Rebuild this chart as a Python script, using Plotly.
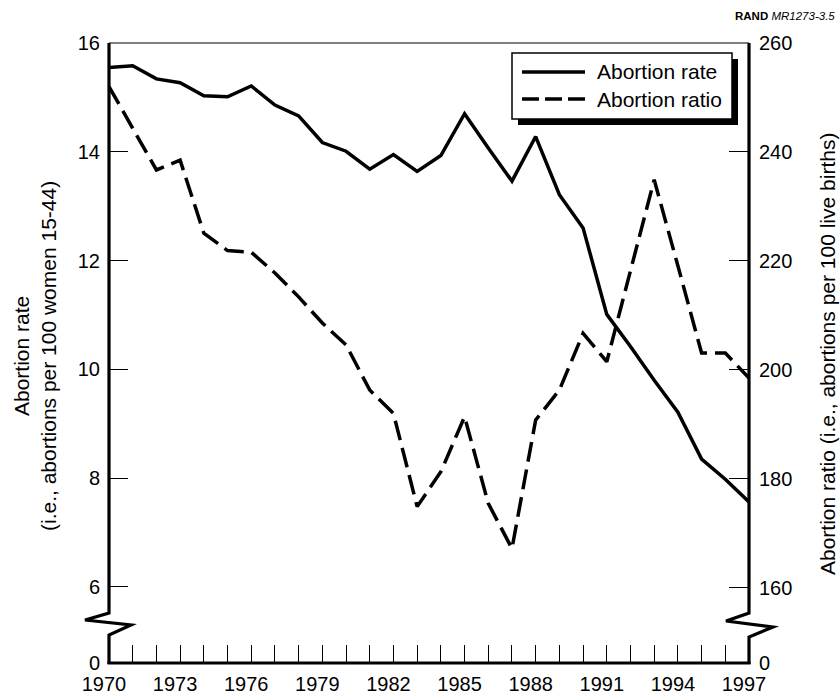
import plotly.graph_objects as go

years = list(range(1970, 1998))
abortion_rate = [15.55, 15.58, 15.34, 15.27, 15.03, 15.01, 15.21, 14.86, 14.66, 14.17,
                 14.01, 13.68, 13.95, 13.64, 13.93, 14.70, 14.07, 13.46, 14.28, 13.21,
                 12.60, 11.01, 10.42, 9.80, 9.21, 8.35, 7.98, 7.56]
abortion_ratio = [252.0, 244.4, 236.7, 238.5, 225.1, 221.9, 221.6, 217.8, 213.4, 208.6,
                  204.6, 196.3, 192.0, 174.9, 181.3, 191.4, 175.5, 167.2, 190.8, 196.3,
                  206.7, 201.5, 218.2, 234.9, 219.1, 203.1, 203.1, 198.5]

left_ticks = [6, 8, 10, 12, 14, 16]
right_ticks = [160, 180, 200, 220, 240, 260]
x_label_years = list(range(1970, 1998, 3))

# axis break: bottom of each y axis stands for "0"
LEFT_BASE = 4.6
RIGHT_BASE = 146.2

W, H = 840, 698
L, R, T, B = 109, 91, 43, 35
PW, PH = W - L - R, H - T - B


def px(x):
    return (x - L) / PW


def py(y):
    return (H - B - y) / PH


FONT = "Liberation Sans, Arial, Helvetica, sans-serif"

fig = go.Figure()
fig.add_trace(go.Scatter(x=years, y=abortion_rate, mode="lines", name="Abortion rate",
                         line=dict(color="black", width=3.5), showlegend=False))
fig.add_trace(go.Scatter(x=years, y=abortion_ratio, mode="lines", name="Abortion ratio",
                         yaxis="y2", line=dict(color="black", width=3.5, dash="20px,8px"),
                         showlegend=False))

shapes = []
lw = 3.2
# left axis with break
path_left = (f"M {px(109)} {py(43)} L {px(109)} {py(613)} L {px(85)} {py(620)} "
             f"L {px(131)} {py(625)} L {px(109)} {py(635)} L {px(109)} {py(664)}")
shapes.append(dict(type="path", xref="paper", yref="paper", path=path_left,
                   line=dict(color="black", width=lw)))
path_right = (f"M {px(749)} {py(43)} L {px(749)} {py(613)} L {px(726)} {py(621)} "
              f"L {px(773)} {py(627)} L {px(749)} {py(637)} L {px(749)} {py(664)}")
shapes.append(dict(type="path", xref="paper", yref="paper", path=path_right,
                   line=dict(color="black", width=lw)))
# bottom axis
shapes.append(dict(type="line", xref="paper", yref="paper", x0=px(107.5), x1=px(750.5),
                   y0=py(663), y1=py(663), line=dict(color="black", width=lw)))
# top border
shapes.append(dict(type="line", xref="paper", yref="paper", x0=px(109), x1=px(749),
                   y0=py(43), y1=py(43), line=dict(color="black", width=1.2)))

# legend box with shadow
shapes.append(dict(type="rect", xref="paper", yref="paper", x0=px(518), x1=px(738),
                   y0=py(59), y1=py(125), fillcolor="black", line=dict(width=0)))
shapes.append(dict(type="rect", xref="paper", yref="paper", x0=px(512), x1=px(732),
                   y0=py(53), y1=py(119), fillcolor="white",
                   line=dict(color="black", width=1.5)))
shapes.append(dict(type="line", xref="paper", yref="paper", x0=px(522), x1=px(585),
                   y0=py(72), y1=py(72), line=dict(color="black", width=3.5)))
shapes.append(dict(type="line", xref="paper", yref="paper", x0=px(522), x1=px(585),
                   y0=py(99), y1=py(99), line=dict(color="black", width=3.5, dash="17px,6px")))

annotations = [
    dict(text="Abortion rate", x=px(595), y=py(72), xref="paper", yref="paper",
         xanchor="left", yanchor="middle", showarrow=False, font=dict(size=21, color="black")),
    dict(text="Abortion ratio", x=px(595), y=py(99), xref="paper", yref="paper",
         xanchor="left", yanchor="middle", showarrow=False, font=dict(size=21, color="black")),
    dict(text="Abortion rate<br>(i.e., abortions per 100 women 15-44)", x=px(35), y=py(356),
         xref="paper", yref="paper", xanchor="center", yanchor="middle", textangle=-90,
         showarrow=False, font=dict(size=21, color="black")),
    dict(text="Abortion ratio (i.e., abortions per 100 live births)", x=px(827), y=py(354),
         xref="paper", yref="paper", xanchor="center", yanchor="middle", textangle=-90,
         showarrow=False, font=dict(size=21, color="black")),
    dict(text="<b>RAND</b> <i>MR1273-3.5</i>", x=px(837), y=py(16), xref="paper",
         yref="paper", xanchor="right", yanchor="middle", showarrow=False,
         font=dict(size=11.5, color="black")),
]

fig.update_layout(
    width=W, height=H,
    margin=dict(l=L, r=R, t=T, b=B, autoexpand=False),
    paper_bgcolor="white", plot_bgcolor="white",
    font=dict(family=FONT, color="black", size=20),
    showlegend=False,
    xaxis=dict(range=[1970, 1997], tickvals=x_label_years,
               ticktext=[str(y) for y in x_label_years],
               ticks="inside", ticklen=18, tickwidth=1.3, tickcolor="black",
               showline=False, showgrid=False, zeroline=False,
               ticklabelshift=-5, ticklabelstandoff=7,
               minor=dict(dtick=1, tick0=1970, ticks="inside", ticklen=18, tickwidth=1.3,
                          tickcolor="black", showgrid=False),
               tickfont=dict(size=20)),
    yaxis=dict(range=[LEFT_BASE, 16], tickvals=[LEFT_BASE] + left_ticks,
               ticktext=["0"] + [str(v) for v in left_ticks],
               ticks="inside", ticklen=19, tickwidth=1.3, tickcolor="black",
               showline=False, showgrid=False, zeroline=False,
               ticklabelstandoff=8, tickfont=dict(size=20)),
    yaxis2=dict(range=[RIGHT_BASE, 260], tickvals=[RIGHT_BASE] + right_ticks,
                ticktext=["0"] + [str(v) for v in right_ticks],
                overlaying="y", side="right",
                ticks="inside", ticklen=20, tickwidth=1.3, tickcolor="black",
                showline=False, showgrid=False, zeroline=False,
                ticklabelstandoff=9, tickfont=dict(size=20)),
    shapes=shapes,
    annotations=annotations,
)

fig.write_html("out.html", config={"displayModeBar": False},
               post_script="document.body.style.margin='0';document.body.style.overflow='hidden';")
